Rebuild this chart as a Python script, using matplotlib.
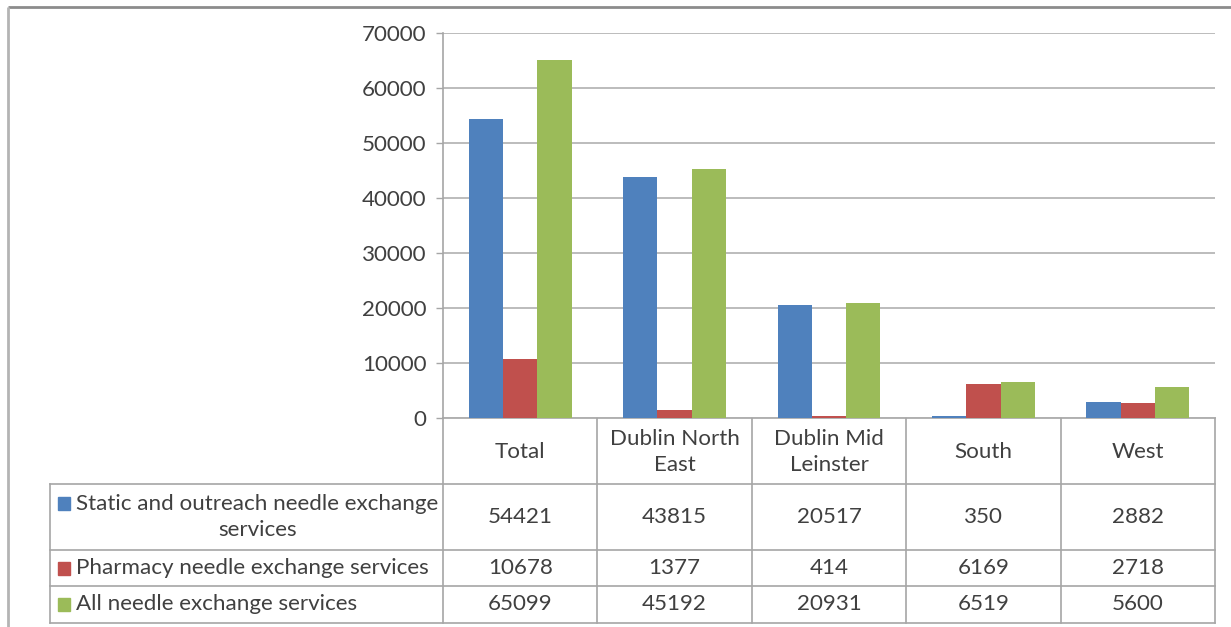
import matplotlib
matplotlib.use("Agg")
import matplotlib.pyplot as plt
from matplotlib.patches import Rectangle

plt.rcParams["font.family"] = ["Lato", "DejaVu Sans"]

# data
categories = ["Total", "Dublin North\nEast", "Dublin Mid\nLeinster", "South", "West"]
series_names = [
    "Static and outreach needle exchange\nservices",
    "Pharmacy needle exchange services",
    "All needle exchange services",
]
static_outreach = [54421, 43815, 20517, 350, 2882]
pharmacy = [10678, 1377, 414, 6169, 2718]
all_services = [65099, 45192, 20931, 6519, 5600]
yticks = [0, 10000, 20000, 30000, 40000, 50000, 60000, 70000]

colors = ["#4F81BD", "#C0504D", "#9BBB59"]
series = [static_outreach, pharmacy, all_services]

W, H = 1231, 627
DPI = 100
FS = 16.1
TXT = "#404040"
GRID = "#B0B0B0"
LINE = "#A6A6A6"

# layout in pixels
plot_left, plot_right = 443, 1215
plot_top, plot_bottom = 33, 418
table_left = 50
row_lines = [484, 550, 586, 623]

fig = plt.figure(figsize=(W / DPI, H / DPI), dpi=DPI)

bg = fig.add_axes([0, 0, 1, 1])
bg.set_xlim(0, W)
bg.set_ylim(H, 0)
bg.axis("off")

# outer chart frame
bg.plot([8, W], [7, 7], color="#8C8C8C", lw=2, solid_capstyle="butt")
bg.plot([8, 8], [7, H], color="#B4B4B4", lw=2, solid_capstyle="butt")

ax = fig.add_axes([
    plot_left / W,
    1 - plot_bottom / H,
    (plot_right - plot_left) / W,
    (plot_bottom - plot_top) / H,
])
ax.set_facecolor("none")

n = len(categories)
bw = 1 / 4.5
for k, (vals, c) in enumerate(zip(series, colors)):
    xs = [i + 0.5 + (k - 1) * bw for i in range(n)]
    ax.bar(xs, vals, width=bw, color=c, zorder=3)

ax.set_xlim(0, n)
ax.set_ylim(0, 70000)
ax.set_yticks(yticks)
ax.set_yticklabels([str(v) for v in yticks], fontsize=FS, color=TXT)
ax.tick_params(axis="y", length=5, width=1, color=LINE, pad=7)
ax.set_xticks([])
ax.yaxis.grid(True, color=GRID, lw=1.2, zorder=0)
for s in ["top", "right", "bottom"]:
    ax.spines[s].set_visible(False)
ax.spines["left"].set_color(LINE)
ax.spines["left"].set_linewidth(1.2)

# data table
col_w = (plot_right - plot_left) / n
bg.plot([plot_left, plot_right], [plot_bottom, plot_bottom], color=LINE, lw=1.2)
for y in row_lines:
    bg.plot([table_left, plot_right], [y, y], color=LINE, lw=1.2)
bg.plot([table_left, table_left], [row_lines[0], row_lines[-1]], color=LINE, lw=1.2)
for i in range(n + 1):
    x = plot_left + i * col_w
    bg.plot([x, x], [plot_bottom, row_lines[-1]], color=LINE, lw=1.2)

for i, cat in enumerate(categories):
    cx = plot_left + (i + 0.5) * col_w
    bg.text(cx, (plot_bottom + row_lines[0]) / 2 + 1, cat, ha="center", va="center",
            fontsize=FS, color=TXT, linespacing=1.35)

row_tops = row_lines[:-1]
row_bots = row_lines[1:]
for k, (name, vals, c) in enumerate(zip(series_names, series, colors)):
    cy = (row_tops[k] + row_bots[k]) / 2
    if "\n" in name:
        key_y = cy - 14
    else:
        key_y = cy
    bg.add_patch(Rectangle((58, key_y - 6.5), 12, 13, color=c))
    bg.text(76, cy, name, ha="left", va="center", multialignment="center",
            fontsize=FS, color=TXT, linespacing=1.35)
    for i, v in enumerate(vals):
        cx = plot_left + (i + 0.5) * col_w
        bg.text(cx, cy, str(v), ha="center", va="center", fontsize=FS, color=TXT)

fig.savefig("out.png", dpi=DPI)
